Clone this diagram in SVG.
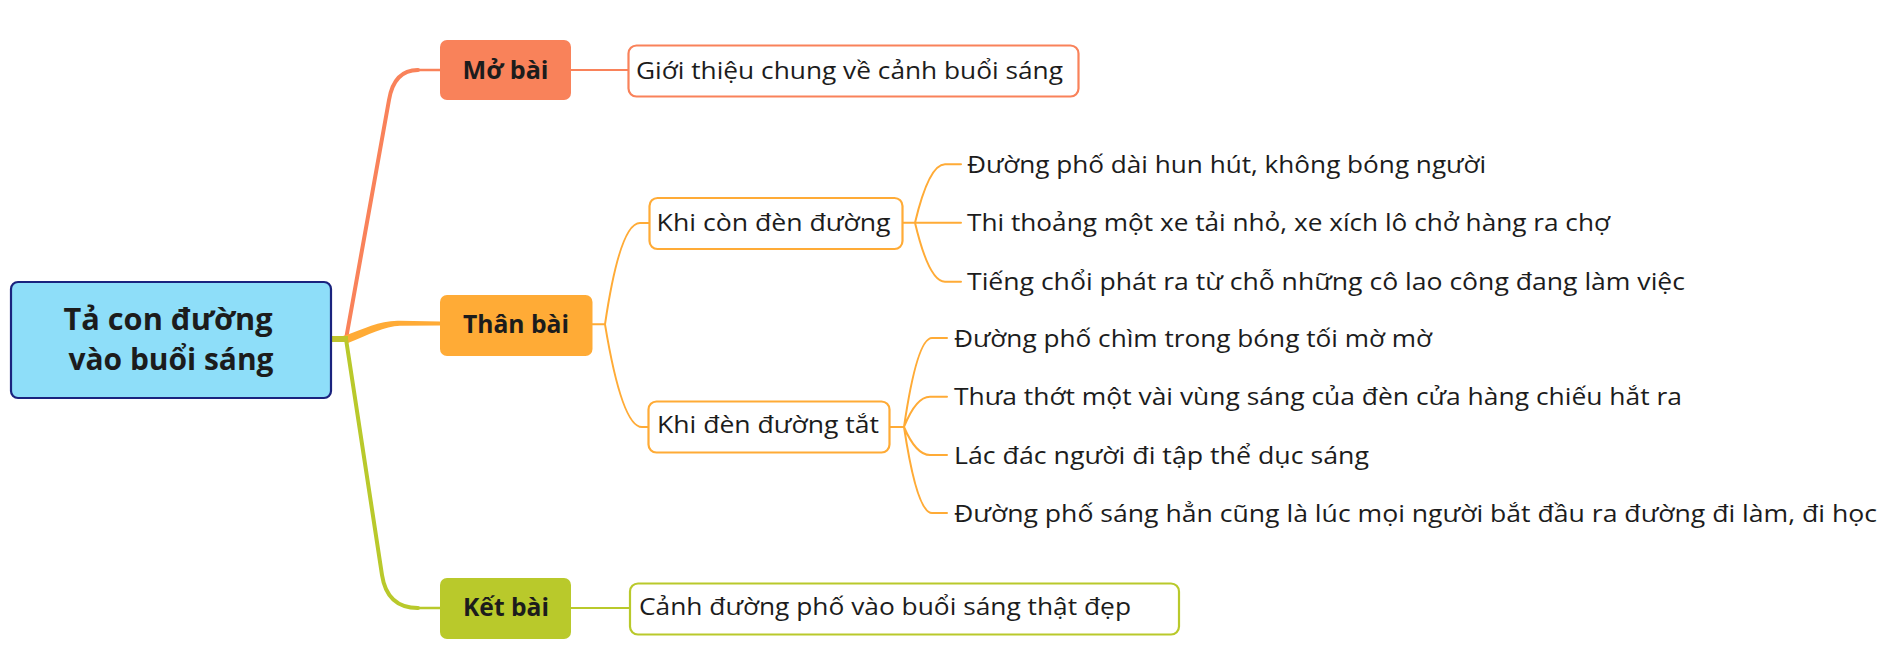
<svg xmlns="http://www.w3.org/2000/svg" width="1897" height="662" viewBox="0 0 1897 662">
<style>
text{font-family:"Open Sans","Liberation Sans",sans-serif;fill:#1c1c1c}
.root{font-size:30px;font-weight:700;text-anchor:middle}
.main{font-size:25px;font-weight:700;text-anchor:middle}
.sub{font-size:24px}
.leaf{font-size:24px}
.c-coral{stroke:#F9825A;fill:none}
.c-orange{stroke:#FFAB36;fill:none}
.c-green{stroke:#B9C92B;fill:none}
.box{fill:#fff;stroke-width:2.2}
</style>
<rect width="1897" height="662" fill="#fff"/>
<g id="connectors" stroke-linecap="round" stroke-linejoin="round">
  <path class="c-coral" stroke-width="4" d="M346,339 L389,100 Q394,70 418,70"/>
  <path class="c-coral" stroke-width="2.5" d="M416,70 H440"/>
  <path fill="#FFAB36" stroke="none" d="M343,336 C365,329 380,320 400,320.8 L440,321.6 L440,325.4 L400,325.8 C385,326 368,335 348,343 Z"/>
  <path class="c-green" stroke-width="4" d="M346,339 L382,575 Q387,608 418,608"/>
  <path class="c-green" stroke-width="2.5" d="M416,608 H440"/>
  <path stroke="#BFC42C" stroke-width="6" stroke-linecap="butt" d="M331,339 H348"/>
  <path class="c-coral" stroke-width="2" d="M571,70 H629"/>
  <path class="c-green" stroke-width="2" d="M571,608 H630"/>
  <path class="c-orange" stroke-width="2" d="M592,324.3 H605 M605,324.3 Q620,223 640,223 H650 M605,324.3 Q622,427 642,427 H649"/>
  <path class="c-orange" stroke-width="2" d="M902,222.7 H961 M915,222.7 Q929,164.3 945,164.3 H961 M915,222.7 Q929,281.7 945,281.7 H961"/>
  <path class="c-orange" stroke-width="2" d="M889,427 H904 M904,427 Q917,338 932,338 H947 M904,427 Q916,396.7 930,396.7 H947 M904,427 Q916,455 930,455 H947 M904,427 Q917,513 932,513 H947"/>
</g>
<g id="root">
  <rect x="11" y="282" width="320" height="116" rx="7" fill="#8EDEF9" stroke="#1A237E" stroke-width="2.2"/>
  <text class="root" x="168" y="330" textLength="209" lengthAdjust="spacingAndGlyphs">Tả con đường</text>
  <text class="root" x="171" y="370" textLength="205" lengthAdjust="spacingAndGlyphs">vào buổi sáng</text>
</g>
<g id="mo-bai">
  <rect x="440" y="40" width="131" height="60" rx="7" fill="#F9825A"/>
  <text class="main" x="505.5" y="79" textLength="86" lengthAdjust="spacingAndGlyphs">Mở bài</text>
</g>
<g id="gioi-thieu">
  <rect class="box" x="628.5" y="45.5" width="450" height="51" rx="8" stroke="#F9825A"/>
  <text class="sub" x="636" y="79.3" textLength="427" lengthAdjust="spacingAndGlyphs">Giới thiệu chung về cảnh buổi sáng</text>
</g>
<g id="than-bai">
  <rect x="440" y="295" width="152.5" height="61" rx="7" fill="#FFAB36"/>
  <text class="main" x="516" y="333.3" textLength="106" lengthAdjust="spacingAndGlyphs">Thân bài</text>
</g>
<g id="khi-con-den">
  <rect class="box" x="649.5" y="198" width="253" height="51" rx="8" stroke="#FFAB36"/>
  <text class="sub" x="656.6" y="230.7" textLength="234" lengthAdjust="spacingAndGlyphs">Khi còn đèn đường</text>
</g>
<g id="leaf-1"><text class="leaf" x="967" y="173.3" textLength="519" lengthAdjust="spacingAndGlyphs">Đường phố dài hun hút, không bóng người</text></g>
<g id="leaf-2"><text class="leaf" x="967" y="231.3" textLength="643" lengthAdjust="spacingAndGlyphs">Thi thoảng một xe tải nhỏ, xe xích lô chở hàng ra chợ</text></g>
<g id="leaf-3"><text class="leaf" x="967" y="290.3" textLength="718" lengthAdjust="spacingAndGlyphs">Tiếng chổi phát ra từ chỗ những cô lao công đang làm việc</text></g>
<g id="khi-den-tat">
  <rect class="box" x="648.5" y="401.5" width="241" height="51" rx="8" stroke="#FFAB36"/>
  <text class="sub" x="657" y="433" textLength="222" lengthAdjust="spacingAndGlyphs">Khi đèn đường tắt</text>
</g>
<g id="leaf-4"><text class="leaf" x="954" y="346.5" textLength="478" lengthAdjust="spacingAndGlyphs">Đường phố chìm trong bóng tối mờ mờ</text></g>
<g id="leaf-5"><text class="leaf" x="954" y="405.3" textLength="728" lengthAdjust="spacingAndGlyphs">Thưa thớt một vài vùng sáng của đèn cửa hàng chiếu hắt ra</text></g>
<g id="leaf-6"><text class="leaf" x="954" y="463.5" textLength="415" lengthAdjust="spacingAndGlyphs">Lác đác người đi tập thể dục sáng</text></g>
<g id="leaf-7"><text class="leaf" x="954" y="521.7" textLength="923" lengthAdjust="spacingAndGlyphs">Đường phố sáng hẳn cũng là lúc mọi người bắt đầu ra đường đi làm, đi học</text></g>
<g id="ket-bai">
  <rect x="440" y="578" width="131" height="61" rx="7" fill="#B9C92B"/>
  <text class="main" x="506" y="616" textLength="86" lengthAdjust="spacingAndGlyphs">Kết bài</text>
</g>
<g id="canh-duong-pho">
  <rect class="box" x="630" y="583.5" width="549" height="51" rx="8" stroke="#B9C92B"/>
  <text class="sub" x="639" y="615" textLength="492" lengthAdjust="spacingAndGlyphs">Cảnh đường phố vào buổi sáng thật đẹp</text>
</g>
</svg>
